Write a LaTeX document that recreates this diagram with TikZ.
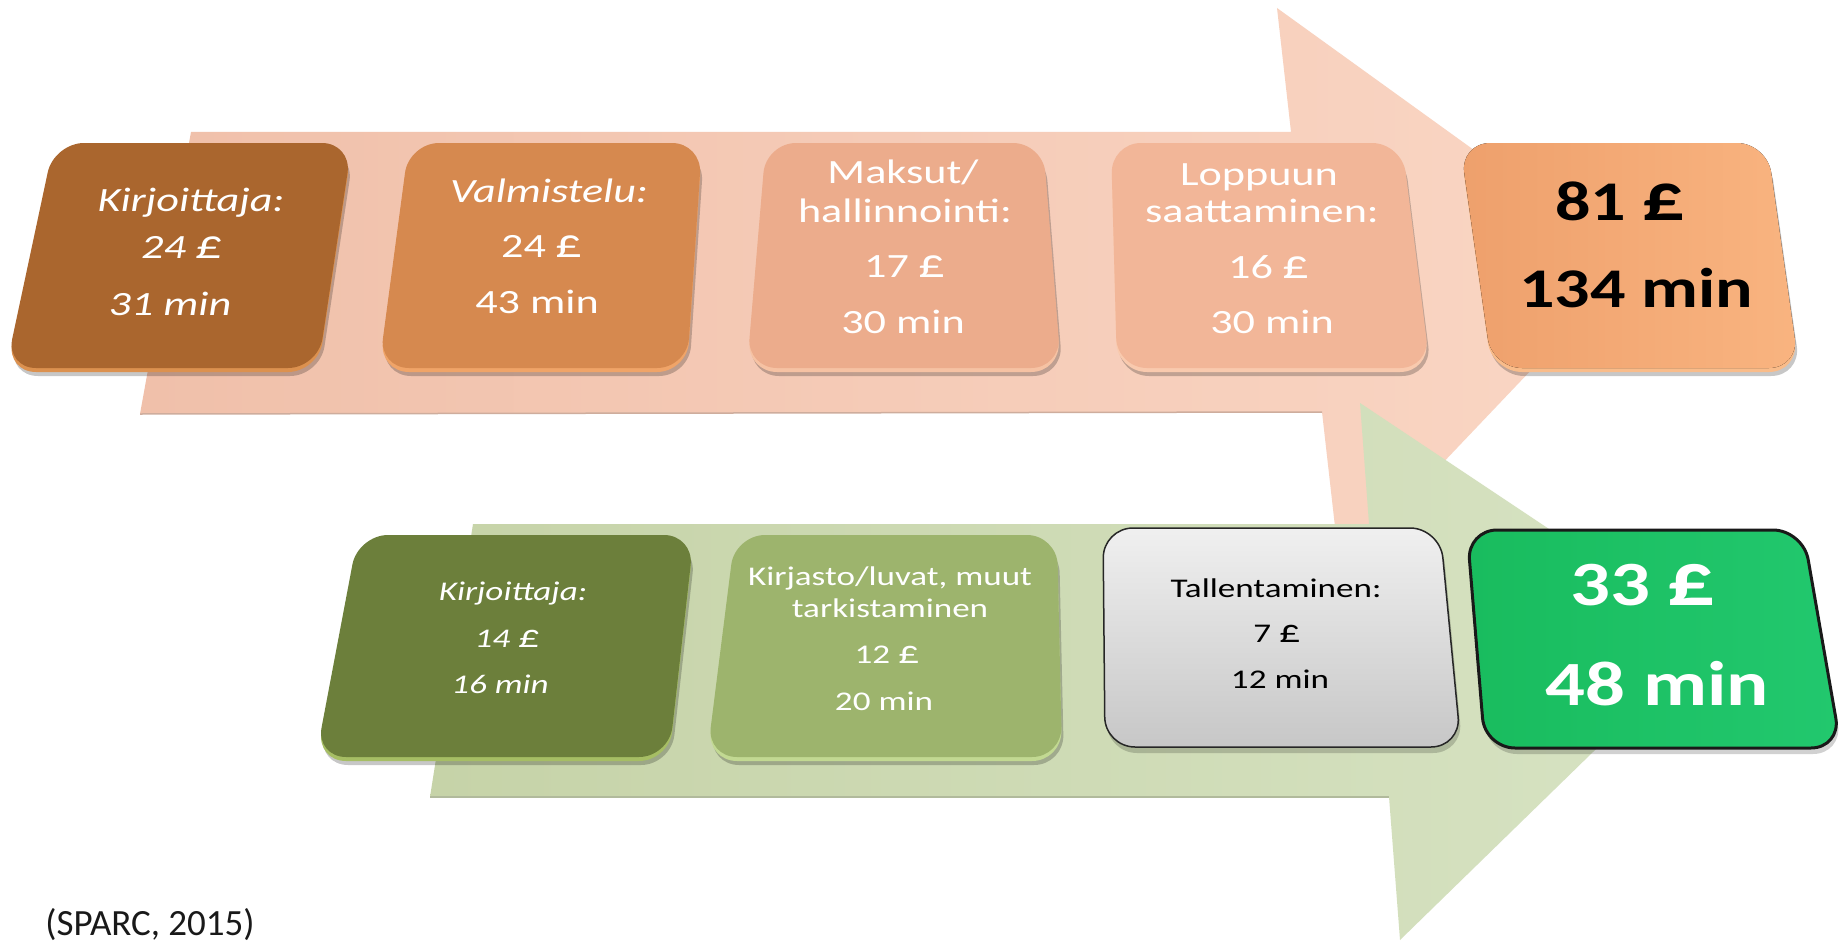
\documentclass[tikz,border=0pt]{standalone}
\usepackage{fontspec}
\setmainfont{Carlito}
\usepackage{graphicx}
\definecolor{pinkL}{HTML}{F0C0AA}
\definecolor{pinkR}{HTML}{FAD6C4}
\definecolor{grnL}{HTML}{C6D3A8}
\definecolor{grnR}{HTML}{D7E3C3}
\definecolor{bA}{HTML}{AA662E}\definecolor{bAe}{HTML}{DC914F}
\definecolor{bB}{HTML}{D6894F}\definecolor{bBe}{HTML}{F0A468}
\definecolor{bC}{HTML}{ECAC8C}\definecolor{bCe}{HTML}{F6C2A3}
\definecolor{bD}{HTML}{F2B698}\definecolor{bDe}{HTML}{F9CAAE}
\definecolor{bEL}{HTML}{EEA06C}\definecolor{bER}{HTML}{F9B480}\definecolor{bEe}{HTML}{F9BC8A}
\definecolor{gA}{HTML}{6C7F3B}\definecolor{gAe}{HTML}{A6BE64}
\definecolor{gB}{HTML}{9DB46D}\definecolor{gBe}{HTML}{C2D992}
\definecolor{gDL}{HTML}{19BC5E}\definecolor{gDR}{HTML}{22C86E}
\newcommand\hsx[1]{\scalebox{1.3}[1]{#1}}
\newcommand\hsy[1]{\scalebox{1.25}[1]{#1}}
\newcommand\pnd{\scalebox{1.2}{£}}
% TLx TRx BRx BLx topy boty facestyle bevelcolor
\newcommand\bx[8]{%
  \fill[black, opacity=0.22, shift={(2,8)}, rounded corners=30pt] (#1,#5) -- (#2,#5) -- (#3,#6) -- (#4,#6) -- cycle;
  \fill[#8, shift={(0,4)}, rounded corners=30pt] (#1,#5) -- (#2,#5) -- (#3,#6) -- (#4,#6) -- cycle;
  \fill[#7, rounded corners=30pt] (#1,#5) -- (#2,#5) -- (#3,#6) -- (#4,#6) -- cycle;
}
\begin{document}
\begin{tikzpicture}[x=1pt,y=-1pt,
  tline/.style={anchor=base, inner sep=0pt, text=white, font=\fontsize{34}{40}\selectfont},
  tlineit/.style={tline, font=\fontsize{34}{40}\selectfont\itshape},
  tbig/.style={anchor=base, inner sep=0pt, text=black, font=\fontsize{56}{60}\selectfont\bfseries},
  bline/.style={anchor=base, inner sep=0pt, text=white, font=\fontsize{27}{32}\selectfont},
  blineit/.style={bline, font=\fontsize{27}{32}\selectfont\itshape},
  bbig/.style={anchor=base, inner sep=0pt, text=white, font=\fontsize{63}{70}\selectfont\bfseries}
]
\useasboundingbox (0,0) rectangle (1846,947);
\fill[white] (0,0) rectangle (1846,947);

% pink arrow
\shade[left color=pinkL, right color=pinkR]
  (191,132) -- (1291,132) -- (1277,8) -- (1632,264) -- (1340,571) -- (1322,412) -- (140,414) -- cycle;
\draw[pinkL!70!gray, line width=1.5pt] (140,414) -- (1322,412);
% green arrow
\shade[left color=grnL, right color=grnR]
  (473,524) -- (1369,524) -- (1360,403) -- (1711,637) -- (1400,940) -- (1389,797) -- (430,797) -- cycle;
\draw[grnL!70!gray, line width=1.5pt] (430,797) -- (1389,797);

% top row boxes
\bx{54}{352}{318}{6}{143}{368}{fill=bA}{bAe}
\bx{409}{702}{687}{379}{143}{368}{fill=bB}{bBe}
\bx{766}{1043}{1061}{747}{143}{368}{fill=bC}{bCe}
\bx{1111}{1402}{1430}{1117}{143}{368}{fill=bD}{bDe}
\bx{1460}{1767}{1799}{1492}{143}{368}{left color=bEL, right color=bER}{bEe}

% bottom row boxes
\bx{358}{694}{669}{316}{535}{757}{fill=gA}{gAe}
\bx{735}{1057}{1062}{707}{535}{757}{fill=gB}{gBe}
\fill[black, opacity=0.18, shift={(2,6)}, rounded corners=30pt] (1103,528) -- (1440,528) -- (1461,747) -- (1105,747) -- cycle;
\shade[top color=black!6, bottom color=black!22, draw=black!85, line width=1.5pt, rounded corners=30pt]
  (1103,528) -- (1440,528) -- (1461,747) -- (1105,747) -- cycle;
\fill[black, opacity=0.18, shift={(2,6)}, rounded corners=30pt] (1467,530) -- (1803,530) -- (1841,748) -- (1485,748) -- cycle;
\shade[left color=gDL, right color=gDR, draw=black!90, line width=3pt, rounded corners=30pt]
  (1467,530) -- (1803,530) -- (1841,748) -- (1485,748) -- cycle;

% texts top row
\node[tlineit] (b1a) at (191,211) {\hsx{Kirjoittaja:}};
\node[tlineit] (b1b) at (182,258) {\hsx{24 \pnd}};
\node[tlineit] (b1c) at (170,315) {\hsx{31 min}};
\node[tlineit] (b2a) at (549,202) {\hsx{Valmistelu:}};
\node[tline] (b2b) at (542,257) {\hsx{24 \pnd}};
\node[tline] (b2c) at (537,313) {\hsx{43 min}};
\node[tline] (b3a) at (903,183) {\hsx{Maksut/}};
\node[tline] (b3b) at (905,222) {\hsx{hallinnointi:}};
\node[tline] (b3c) at (905,277) {\hsx{17 \pnd}};
\node[tline] (b3d) at (903,333) {\hsx{30 min}};
\node[tline] (b4a) at (1259,185) {\hsx{Loppuun}};
\node[tline] (b4b) at (1262,222) {\hsx{saattaminen:}};
\node[tline] (b4c) at (1269,278) {\hsx{16 \pnd}};
\node[tline] (b4d) at (1272,333) {\hsx{30 min}};
\node[tbig] (b5a) at (1620,220) {\hsy{81 \pnd}};
\node[tbig] (b5b) at (1636,307) {\hsy{134 min}};

% texts bottom row
\node[blineit] (g1a) at (513,600) {\hsx{Kirjoittaja:}};
\node[blineit] (g1b) at (507,647) {\hsx{14 \pnd}};
\node[blineit] (g1c) at (500,693) {\hsx{16 min}};
\node[bline] (g2a) at (890,585) {\hsx{Kirjasto/luvat, muut}};
\node[bline] (g2b) at (890,617) {\hsx{tarkistaminen}};
\node[bline] (g2c) at (887,663) {\hsx{12 \pnd}};
\node[bline] (g2d) at (884,710) {\hsx{20 min}};
\node[bline, text=black] (g3a) at (1276,597) {\hsx{Tallentaminen:}};
\node[bline, text=black] (g3b) at (1277,642) {\hsx{7 \pnd}};
\node[bline, text=black] (g3c) at (1280,688) {\hsx{12 min}};
\node[bbig] (g4a) at (1643,605) {\hsy{33 \pnd}};
\node[bbig] (g4b) at (1657,705) {\hsy{48 min}};

\node[anchor=base, inner sep=0pt, text=black!90, font=\fontsize{37}{44}\selectfont] (src) at (150,935) {(SPARC, 2015)};
\end{tikzpicture}
\end{document}
